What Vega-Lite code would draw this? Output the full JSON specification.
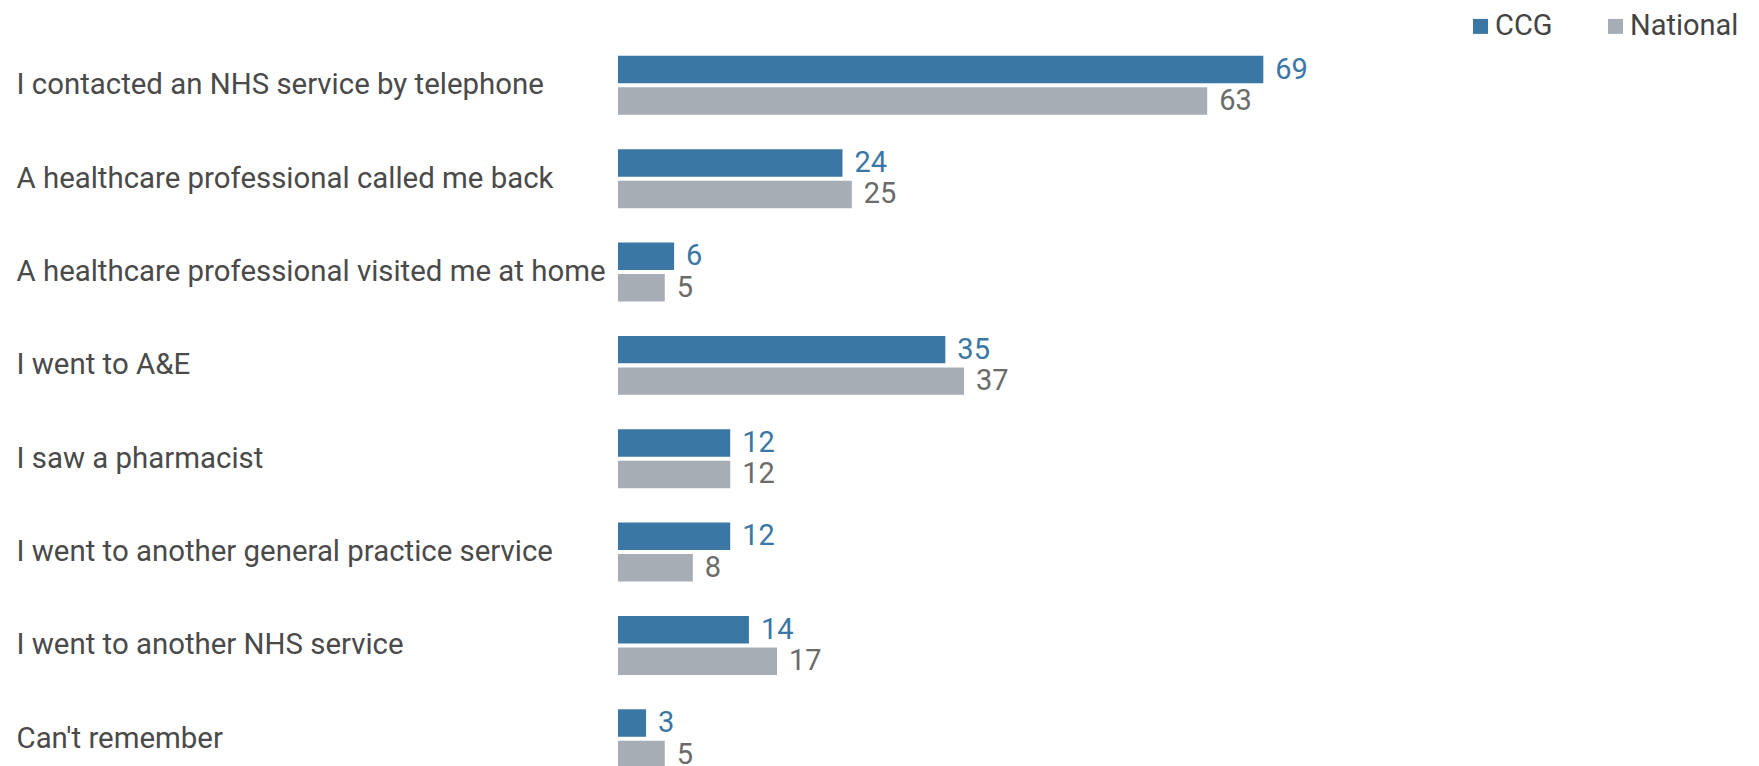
{
  "$schema": "https://vega.github.io/schema/vega-lite/v6.json",
  "autosize": {"type": "none"},
  "padding": {"left": 618, "top": 38.65, "right": 0, "bottom": 0},
  "width": 1141,
  "height": 727.35,
  "background": "white",
  "config": {
    "view": {"stroke": null},
    "font": "Roboto"
  },
  "data": {
    "values": [
      {"category": "I contacted an NHS service by telephone", "group": "CCG", "value": 69},
      {"category": "I contacted an NHS service by telephone", "group": "National", "value": 63},
      {"category": "A healthcare professional called me back", "group": "CCG", "value": 24},
      {"category": "A healthcare professional called me back", "group": "National", "value": 25},
      {"category": "A healthcare professional visited me at home", "group": "CCG", "value": 6},
      {"category": "A healthcare professional visited me at home", "group": "National", "value": 5},
      {"category": "I went to A&E", "group": "CCG", "value": 35},
      {"category": "I went to A&E", "group": "National", "value": 37},
      {"category": "I saw a pharmacist", "group": "CCG", "value": 12},
      {"category": "I saw a pharmacist", "group": "National", "value": 12},
      {"category": "I went to another general practice service", "group": "CCG", "value": 12},
      {"category": "I went to another general practice service", "group": "National", "value": 8},
      {"category": "I went to another NHS service", "group": "CCG", "value": 14},
      {"category": "I went to another NHS service", "group": "National", "value": 17},
      {"category": "Can't remember", "group": "CCG", "value": 3},
      {"category": "Can't remember", "group": "National", "value": 5}
    ]
  },
  "encoding": {
    "y": {
      "field": "category",
      "type": "nominal",
      "sort": null,
      "title": null,
      "scale": {"range": [0, 746.8], "paddingInner": 0.368, "paddingOuter": 0.184},
      "axis": {
        "ticks": false,
        "domain": false,
        "labelAlign": "left",
        "labelBaseline": "middle",
        "labelPadding": 602,
        "labelFontSize": 29.4,
        "labelColor": "#4a4a4a",
        "labelFont": "Roboto",
        "labelLimit": 0
      }
    },
    "yOffset": {
      "field": "group",
      "type": "nominal",
      "sort": ["CCG", "National"],
      "scale": {"paddingInner": 0.127, "paddingOuter": 0}
    },
    "x": {
      "field": "value",
      "type": "quantitative",
      "scale": {"domain": [0, 122], "nice": false},
      "axis": null
    }
  },
  "layer": [
    {
      "mark": {"type": "bar", "clip": true},
      "encoding": {
        "color": {
          "field": "group",
          "type": "nominal",
          "scale": {"domain": ["CCG", "National"], "range": ["#3a77a4", "#a6adb5"]},
          "legend": {
            "title": null,
            "orient": "none",
            "direction": "horizontal",
            "legendX": 848,
            "legendY": -27,
            "symbolType": "square",
            "symbolSize": 225,
            "symbolStrokeWidth": 0,
            "labelFontSize": 29,
            "labelColor": "#444444",
            "labelFont": "Roboto",
            "labelOffset": 0,
            "columnPadding": 48
          }
        }
      }
    },
    {
      "mark": {"type": "text", "align": "left", "baseline": "middle", "dx": 12, "fontSize": 29, "font": "Roboto", "clip": true},
      "encoding": {
        "text": {"field": "value", "type": "quantitative"},
        "color": {
          "field": "group",
          "type": "nominal",
          "scale": {"domain": ["CCG", "National"], "range": ["#3a77a4", "#6b6b6b"]},
          "legend": null
        }
      }
    }
  ],
  "resolve": {"scale": {"color": "independent"}}
}
